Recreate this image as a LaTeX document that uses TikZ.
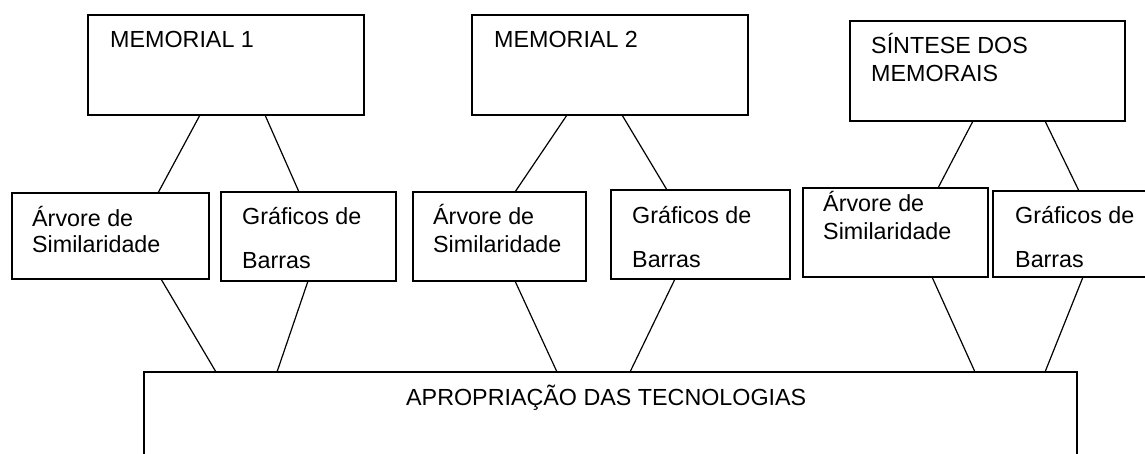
\documentclass[tikz,border=0pt]{standalone}
\usepackage{fontspec}
\setmainfont{Liberation Sans}
\begin{document}
\begin{tikzpicture}[x=1pt,y=-1pt,
  box/.style={draw=black, line width=1.25pt, fill=none, inner sep=0pt, outer sep=0pt, anchor=north west},
  lbl/.style={anchor=base west, inner sep=0pt, font=\fontsize{23.3}{28}\selectfont},
  conn/.style={draw=black, line width=1.2pt}]
\clip (0,0) rectangle (1145,454);
\fill[white] (0,0) rectangle (1145,454);
% top boxes
\node[box, minimum width=276pt, minimum height=100pt] (m1) at (88,15) {};
\node[box, minimum width=276pt, minimum height=100pt] (m2) at (472,15) {};
\node[box, minimum width=275pt, minimum height=100pt] (m3) at (850,21) {};
% middle boxes
\node[box, minimum width=197pt, minimum height=86pt] (a1) at (12,193) {};
\node[box, minimum width=175pt, minimum height=89pt] (g1) at (221,192) {};
\node[box, minimum width=173pt, minimum height=89pt] (a2) at (413,192) {};
\node[box, minimum width=179pt, minimum height=89pt] (g2) at (611,190) {};
\node[box, minimum width=185pt, minimum height=89pt] (a3) at (803,188) {};
\node[box, minimum width=160pt, minimum height=86pt] (g3) at (993,191) {};
% bottom box
\node[box, minimum width=933pt, minimum height=110pt] (b) at (144,372) {};
% texts
\node[lbl] (t1) at (110,48) {MEMORIAL 1};
\node[lbl] (t2) at (494,48) {MEMORIAL 2};
\node[lbl] (t3a) at (871,54) {SÍNTESE DOS};
\node[lbl] (t3b) at (871,82) {MEMORAIS};
\node[lbl] (ta1a) at (32,227) {Árvore de};
\node[lbl] (ta1b) at (32,253) {Similaridade};
\node[lbl] (tg1a) at (242,225) {Gráficos de};
\node[lbl] (tg1b) at (242,269) {Barras};
\node[lbl] (ta2a) at (433,225) {Árvore de};
\node[lbl] (ta2b) at (433,253) {Similaridade};
\node[lbl] (tg2a) at (632,224) {Gráficos de};
\node[lbl] (tg2b) at (632,267) {Barras};
\node[lbl] (ta3a) at (823,212) {Árvore de};
\node[lbl] (ta3b) at (823,240) {Similaridade};
\node[lbl] (tg3a) at (1015,224) {Gráficos de};
\node[lbl] (tg3b) at (1015,267) {Barras};
\node[lbl] (tb) at (406,405) {APROPRIAÇÃO DAS TECNOLOGIAS};
% connectors
\draw[conn] ([xshift=112pt]m1.south west) -- ([xshift=146pt]a1.north west);
\draw[conn] ([xshift=177pt]m1.south west) -- ([xshift=78pt]g1.north west);
\draw[conn] ([xshift=149pt]a1.south west) -- ([xshift=72pt]b.north west);
\draw[conn] ([xshift=87pt]g1.south west) -- ([xshift=133pt]b.north west);
\draw[conn] ([xshift=95pt]m2.south west) -- ([xshift=102pt]a2.north west);
\draw[conn] ([xshift=150pt]m2.south west) -- ([xshift=56pt]g2.north west);
\draw[conn] ([xshift=102pt]a2.south west) -- ([xshift=413pt]b.north west);
\draw[conn] ([xshift=64pt]g2.south west) -- ([xshift=486pt]b.north west);
\draw[conn] ([xshift=123pt]m3.south west) -- ([xshift=135pt]a3.north west);
\draw[conn] ([xshift=195pt]m3.south west) -- ([xshift=86pt]g3.north west);
\draw[conn] ([xshift=129pt]a3.south west) -- ([xshift=831pt]b.north west);
\draw[conn] ([xshift=90pt]g3.south west) -- ([xshift=901pt]b.north west);
\end{tikzpicture}
\end{document}
